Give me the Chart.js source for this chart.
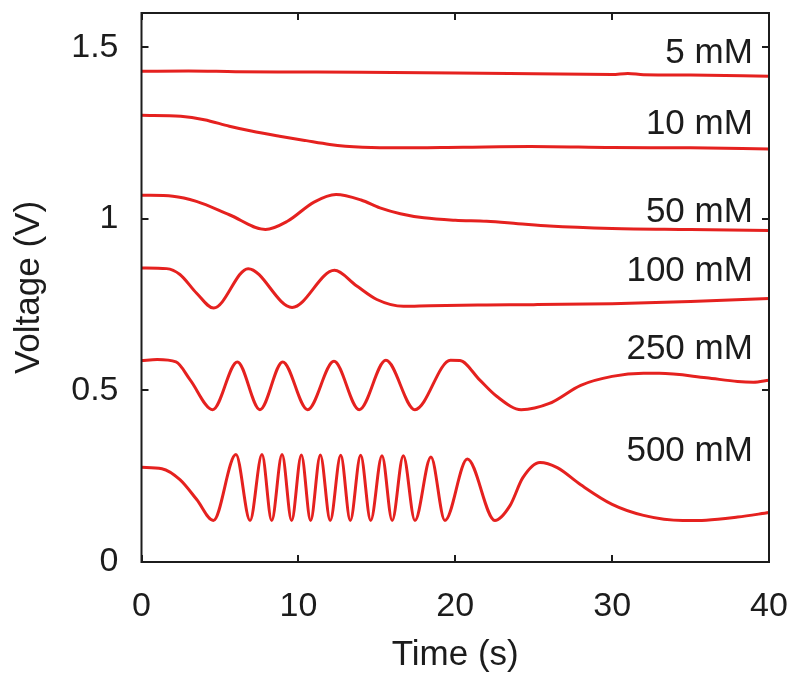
<!DOCTYPE html>
<html><head><meta charset="utf-8">
<script src="https://cdn.jsdelivr.net/npm/chart.js@4.4.0/dist/chart.umd.min.js"></script>
<style>html,body{margin:0;padding:0;background:#fff;}canvas{display:block;}</style>
</head><body>
<canvas id="c" width="800" height="686"></canvas>
<script>
// ---- data ----
const xTicks = [0, 10, 20, 30, 40];
const yTicks = [0, 0.5, 1, 1.5];
const seriesNames = ['5 mM', '10 mM', '50 mM', '100 mM', '250 mM', '500 mM'];

const t5  = [0, 3, 6, 10, 14, 20, 25, 30, 31, 32, 35, 40];
const v5  = [1.430, 1.431, 1.429, 1.428, 1.427, 1.425, 1.423, 1.421, 1.424, 1.420, 1.419, 1.416];

const t10 = [0, 2.5, 4, 5.6, 7, 8.8, 10.5, 12, 13, 14.1, 16.3, 20.5, 24.8, 30, 35, 40];
const v10 = [1.302, 1.299, 1.289, 1.270, 1.256, 1.241, 1.228, 1.217, 1.212, 1.209, 1.207, 1.209, 1.211, 1.208, 1.207, 1.204];

const t50 = [0, 2, 3.5, 5.6, 7.9, 9.3, 11, 12.4, 14, 15.2, 16.5, 18, 20, 22, 24, 26, 30, 35, 40];
const v50 = [1.069, 1.066, 1.051, 1.012, 0.969, 0.993, 1.049, 1.071, 1.055, 1.032, 1.015, 1.003, 0.996, 0.993, 0.986, 0.979, 0.972, 0.969, 0.966];

const t100 = [0, 1.6, 2.45, 3.5, 4.6, 6.8, 9.6, 12.3, 13.7, 15, 16.7, 18.4, 22, 25, 30, 35, 40];
const v100 = [0.857, 0.855, 0.838, 0.784, 0.740, 0.855, 0.742, 0.850, 0.805, 0.765, 0.745, 0.747, 0.749, 0.750, 0.753, 0.759, 0.768];

const t250 = [0, 1, 2.2, 3.1, 4.54, 6.11, 7.55, 9.0, 10.59, 12.27, 13.88, 15.58, 17.43, 19.7, 20.3, 21.57, 22.64, 24.2, 26, 28, 30, 32, 33, 36, 38, 39, 40];
const v250 = [0.587, 0.590, 0.583, 0.531, 0.444, 0.583, 0.444, 0.583, 0.444, 0.585, 0.444, 0.588, 0.444, 0.588, 0.587, 0.530, 0.483, 0.444, 0.462, 0.515, 0.541, 0.550, 0.550, 0.537, 0.526, 0.524, 0.530];

const t500 = [0, 1.3, 2.45, 3.52, 4.58, 6.02, 6.92, 7.68, 8.30, 8.96, 9.57, 10.19, 10.78, 11.40, 12.03, 12.70, 13.31, 13.97, 14.61, 15.33, 15.98, 16.69, 17.43, 18.45, 19.34, 20.77, 22.53, 23.5, 24.3, 25.4, 26.5, 28, 30, 32, 34.5, 36, 38, 40];
const v500 = [0.276, 0.272, 0.240, 0.182, 0.121, 0.313, 0.121, 0.313, 0.121, 0.313, 0.121, 0.312, 0.121, 0.312, 0.121, 0.311, 0.121, 0.311, 0.121, 0.310, 0.121, 0.310, 0.121, 0.306, 0.121, 0.300, 0.121, 0.165, 0.245, 0.290, 0.275, 0.225, 0.168, 0.136, 0.121, 0.122, 0.131, 0.144];

const seriesT = [t5, t10, t50, t100, t250, t500];
const seriesV = [v5, v10, v50, v100, v250, v500];

// ---- chart ----
const FONT = '"Liberation Sans", Arial, Helvetica, sans-serif';
const INK = '#1c1c1c';
const RED = '#e5211f';

const frame = {
  id: 'frame',
  afterDatasetsDraw(chart, args, opts) {
    const {ctx, chartArea: a, scales: {x, y}} = chart;
    ctx.save();
    ctx.strokeStyle = INK;
    ctx.lineWidth = 2;
    ctx.strokeRect(a.left, a.top, a.right - a.left, a.bottom - a.top);
    const L = 7;
    ctx.beginPath();
    xTicks.forEach(v => {
      const p = Math.round(x.getPixelForValue(v));
      ctx.moveTo(p, a.bottom); ctx.lineTo(p, a.bottom - L);
      ctx.moveTo(p, a.top); ctx.lineTo(p, a.top + L);
    });
    yTicks.forEach(v => {
      const p = Math.round(y.getPixelForValue(v));
      ctx.moveTo(a.left, p); ctx.lineTo(a.left + L, p);
      ctx.moveTo(a.right, p); ctx.lineTo(a.right - L, p);
    });
    ctx.stroke();
    ctx.font = '35px ' + FONT;
    ctx.fillStyle = INK;
    ctx.textAlign = 'right';
    ctx.textBaseline = 'middle';
    seriesNames.forEach((s, i) => {
      ctx.fillText(s, x.getPixelForValue(opts.labelT), y.getPixelForValue(opts.labelV[i]));
    });
    ctx.restore();
  }
};

const datasets = seriesNames.map((name, i) => ({
  label: name,
  data: seriesT[i].map((t, j) => ({x: t, y: seriesV[i][j]})),
  borderColor: RED,
  borderWidth: 3,
  pointRadius: 0,
  fill: false,
  cubicInterpolationMode: 'monotone'
}));

new Chart(document.getElementById('c'), {
  type: 'line',
  data: {datasets},
  plugins: [frame],
  options: {
    responsive: false,
    animation: false,
    devicePixelRatio: 1,
    layout: {padding: {top: 13, right: 31, left: 0, bottom: 0}},
    plugins: {
      legend: {display: false},
      tooltip: {enabled: false},
      frame: {labelT: 38.97, labelV: [1.483, 1.275, 1.018, 0.846, 0.619, 0.322]}
    },
    scales: {
      x: {
        type: 'linear', min: 0, max: 40,
        afterBuildTicks: s => { s.ticks = xTicks.map(v => ({value: v})); },
        afterFit: s => { s.height = 124; s.paddingLeft = 0; s.paddingRight = 0; },
        grid: {display: false, drawTicks: false},
        border: {display: false},
        ticks: {font: {family: FONT, size: 34}, color: INK, padding: 24, callback: v => String(v)},
        title: {display: true, text: 'Time (s)', font: {family: FONT, size: 35}, color: INK, padding: {top: 0, bottom: 10}}
      },
      y: {
        type: 'linear', min: 0, max: 1.6,
        afterBuildTicks: s => { s.ticks = yTicks.map(v => ({value: v})); },
        afterFit: s => { s.width = 141.5; s.paddingTop = 0; s.paddingBottom = 0; },
        grid: {display: false, drawTicks: false},
        border: {display: false},
        ticks: {font: {family: FONT, size: 34}, color: INK, padding: 23, callback: v => String(v)},
        title: {display: true, text: 'Voltage (V)', font: {family: FONT, size: 35}, color: INK, padding: {top: 8, bottom: 0}}
      }
    }
  }
});
</script>
</body></html>
